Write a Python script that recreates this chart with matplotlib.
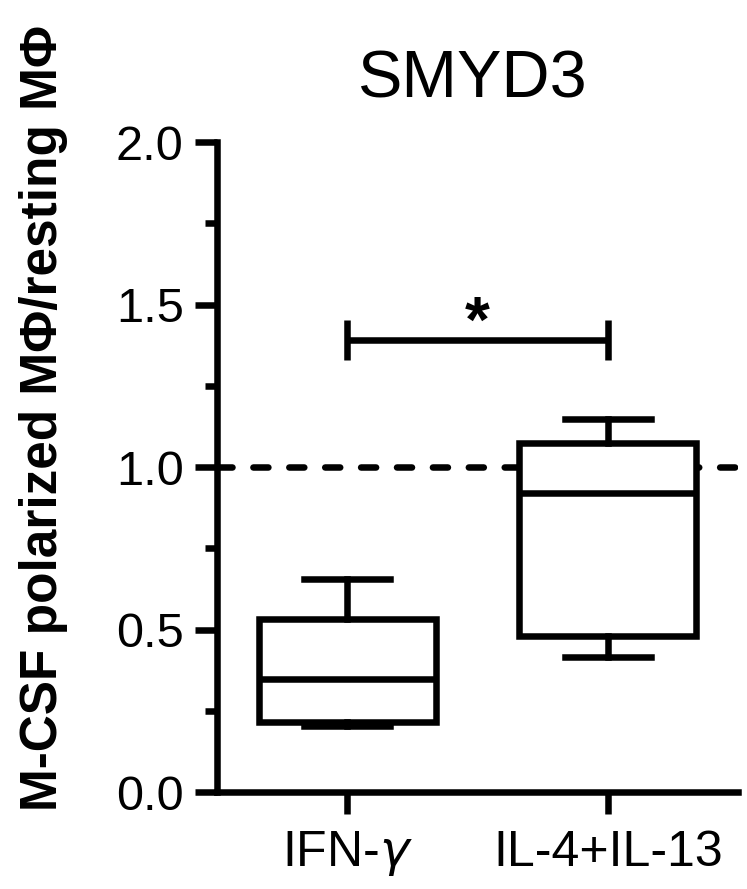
import matplotlib
matplotlib.use("Agg")
import matplotlib.pyplot as plt
from matplotlib.ticker import MultipleLocator

plt.rcParams['font.family'] = ['Liberation Sans', 'DejaVu Sans']

# box statistics
groups = ["IFN-$\\gamma$", "IL-4+IL-13"]
whisker_low = [0.203, 0.416]
q1 = [0.216, 0.481]
medians = [0.348, 0.920]
q3 = [0.532, 1.074]
whisker_high = [0.656, 1.148]

reference_level = 1.0
sig_height = 1.39
sig_label = "*"

lw = 4.7
fig = plt.figure(figsize=(7.47, 8.89), dpi=100)
ax = fig.add_axes([217 / 747, 97 / 889, 521 / 747, 650 / 889])

# dashed reference line, sits behind the boxes
ax.axhline(reference_level, color="black", lw=lw, dashes=(2.3, 3.2),
           dash_capstyle="round", zorder=1)

stats = []
for i, g in enumerate(groups):
    stats.append(dict(label=g, whislo=whisker_low[i], q1=q1[i], med=medians[i],
                      q3=q3[i], whishi=whisker_high[i], fliers=[]))

ax.bxp(stats, positions=[1, 2], widths=0.68, capwidths=0.33, patch_artist=True,
       showfliers=False,
       boxprops=dict(facecolor="white", edgecolor="black", linewidth=lw),
       medianprops=dict(color="black", linewidth=lw),
       whiskerprops=dict(color="black", linewidth=lw),
       capprops=dict(color="black", linewidth=lw))

# significance bracket
ax.plot([1, 2], [sig_height, sig_height], color="black", lw=lw, solid_capstyle="butt")
for xp in (1, 2):
    ax.plot([xp, xp], [sig_height - 0.062, sig_height + 0.062], color="black",
            lw=lw, solid_capstyle="butt")
ax.text(1.5, sig_height - 0.045, sig_label, ha="center", va="bottom",
        fontsize=46, fontweight="bold")

ax.set_xlim(0.5, 2.5)
ax.set_ylim(0, 2.0)
ax.yaxis.set_major_locator(MultipleLocator(0.5))
ax.yaxis.set_minor_locator(MultipleLocator(0.25))
ax.set_yticklabels([f"{v:.1f}" for v in ax.get_yticks()])
ax.set_xticks([1, 2])
ax.set_xticklabels(groups)

for s in ("top", "right"):
    ax.spines[s].set_visible(False)
for s in ("left", "bottom"):
    ax.spines[s].set_linewidth(lw)
    ax.spines[s].set_capstyle("projecting")

ax.tick_params(axis="both", which="major", length=16, width=lw, labelsize=35, pad=8)
ax.tick_params(axis="x", which="major", labelsize=36, pad=11)
ax.tick_params(axis="y", which="minor", length=9, width=lw)

fig.text(472 / 747, 1 - 98 / 889, "SMYD3", ha="center", va="baseline", fontsize=48)
fig.text(44 / 747, 1 - 418 / 889, "M-CSF polarized M\u03a6/resting M\u03a6", rotation=90,
         ha="center", va="center", fontsize=37, fontweight="bold")

fig.savefig("out.png", dpi=100)
